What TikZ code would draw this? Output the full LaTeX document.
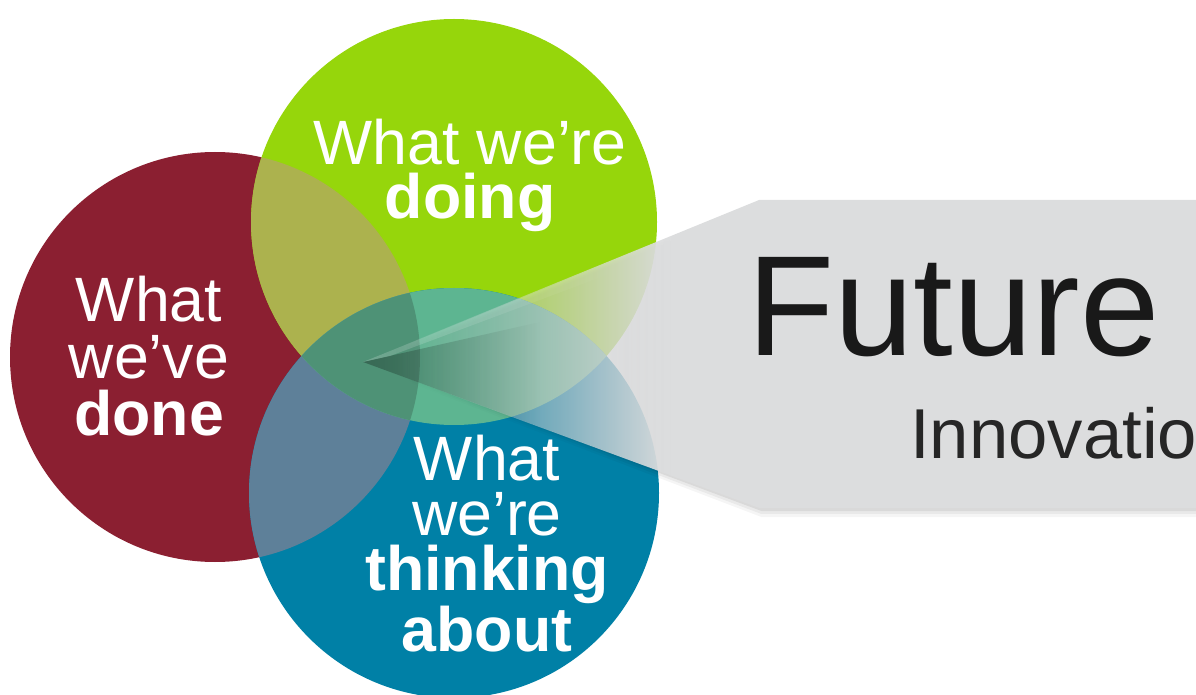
\documentclass[tikz,border=0pt]{standalone}
\usepackage{fontspec}
\setmainfont{Liberation Sans}
\usetikzlibrary{fadings}
\definecolor{cred}{HTML}{8B1F31}
\definecolor{cgreen}{HTML}{96D60B}
\definecolor{cblue}{HTML}{0080A6}
\definecolor{crg}{HTML}{ACB24E}
\definecolor{crb}{HTML}{5E8099}
\definecolor{cgb}{HTML}{5DB591}
\definecolor{crgb}{HTML}{4E9276}
\definecolor{cgray}{HTML}{DCDDDE}
\pgfdeclarehorizontalshading{arrowfadeshade}{100bp}{color(0bp)=(pgftransparent!100); color(27bp)=(pgftransparent!100); color(43bp)=(pgftransparent!0); color(100bp)=(pgftransparent!0)}
\pgfdeclarefading{arrowfade}{\pgfuseshading{arrowfadeshade}}
\tikzfading[name=wedgefade, left color=transparent!72, right color=transparent!100]
\tikzfading[name=hlfade, left color=transparent!80, right color=transparent!100]
\tikzset{
  circtext/.style={text=white, inner sep=0pt, anchor=base, align=center},
  arrowshadow/.style={black, path fading=arrowfade},
}
\begin{document}
\begin{tikzpicture}[x=0.75pt,y=-0.75pt]
\useasboundingbox (0,0) rectangle (1196,695);
\begin{scope}
\clip (0,0) rectangle (1196,695);
% circles
\coordinate (cr) at (215,357);
\coordinate (cg) at (454,222);
\coordinate (cb) at (454,493);
\fill[cred] (cr) circle[radius=205];
\fill[cgreen] (cg) circle[radius=203];
\fill[cblue] (cb) circle[radius=205];
% overlaps
\begin{scope}
  \clip (cr) circle[radius=205];
  \fill[crg] (cg) circle[radius=203];
  \fill[crb] (cb) circle[radius=205];
\end{scope}
\begin{scope}
  \clip (cg) circle[radius=203];
  \fill[cgb] (cb) circle[radius=205];
  \clip (cb) circle[radius=205];
  \fill[crgb] (cr) circle[radius=205];
\end{scope}
% soft shadow of the arrow
\foreach \d/\o in {9/0.04,6/0.05,3/0.07}{
  \fill[arrowshadow, opacity=\o]
    (365,{362+\d*0.4}) -- (762,{200+\d*0.5}) -- (1230,{200+\d*0.5}) -- (1230,{508+\d}) -- (762,{508+\d}) -- cycle;
}
% gray arrow
\coordinate (tip) at (363,362);
\fill[cgray, path fading=arrowfade]
  (tip) -- (760,200) -- (1230,200) -- (1230,508) -- (760,508) -- cycle;
% dark bevel near tip
\fill[black, path fading=wedgefade]
  (tip) -- (540,322) -- (540,427) -- cycle;
\fill[white, path fading=hlfade]
  (tip) -- (620,258) -- (620,270) -- (390,356) -- cycle;
% texts (base anchor = baseline of the last line)
\node[circtext, font=\fontsize{47}{40.5}\selectfont] (gtext) at (470,219)
  {What we’re\\\textbf{doing}};
\node[circtext, font=\fontsize{47}{42.5}\selectfont] (rtext) at (149,435)
  {What\\we’ve\\\textbf{done}};
\node[circtext, font=\fontsize{47}{41.5}\selectfont] (btext) at (487,651)
  {What\\we’re\\\textbf{thinking}\\\textbf{about}};
\node[inner sep=0pt, anchor=base west, text=black!90, font=\fontsize{107}{110}\selectfont] (fut) at (747,355) {Future};
\node[inner sep=0pt, anchor=base west, text=black!85, font=\fontsize{53}{56}\selectfont] (inn) at (910,458) {Innovation};
\end{scope}
\end{tikzpicture}
\end{document}
